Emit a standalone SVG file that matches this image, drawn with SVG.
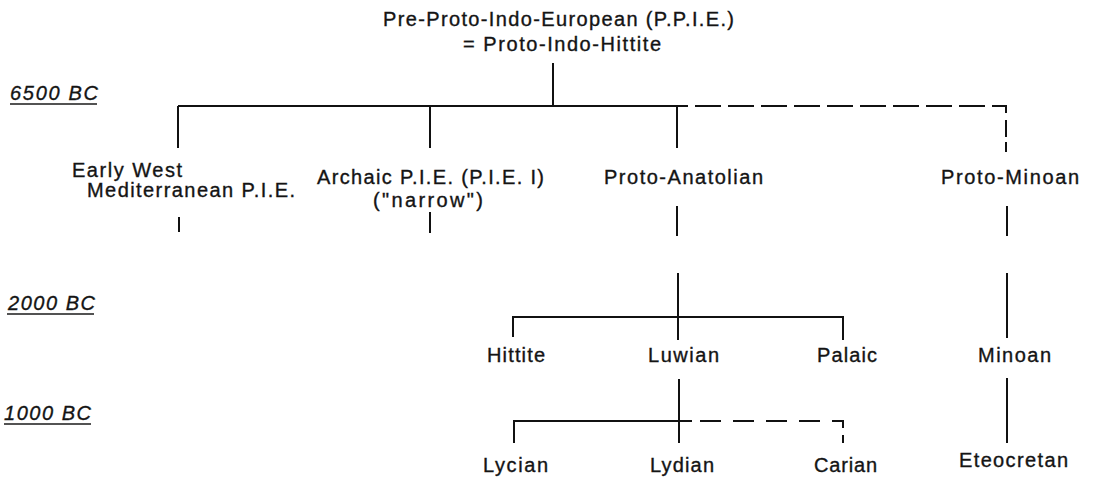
<svg xmlns="http://www.w3.org/2000/svg" width="1094" height="477" viewBox="0 0 1094 477">
<style>
text{font-family:"Liberation Sans",Arial,sans-serif;font-size:20px;fill:#141414;stroke:#141414;stroke-width:0.35}
.yr{font-style:italic}
.ul{stroke:#1a1a1a;stroke-width:1.6}
.c{fill:none;stroke:#111;stroke-width:2}
.d1{stroke-dasharray:26 7}
.d2{stroke-dasharray:21 12}
</style>
<rect width="1094" height="477" fill="#fff"/>
<g id="timeline">
<text class="yr" x="10" y="100" textLength="88" lengthAdjust="spacing">6500 BC</text>
<line class="ul" x1="10" y1="104" x2="97" y2="104"/>
<text class="yr" x="8" y="310" textLength="87" lengthAdjust="spacing">2000 BC</text>
<line class="ul" x1="7" y1="314" x2="94" y2="314"/>
<text class="yr" x="4" y="420" textLength="87" lengthAdjust="spacing">1000 BC</text>
<line class="ul" x1="4" y1="424" x2="91" y2="424"/>
</g>
<g id="connectors">
<path class="c" d="M553,63V106M178,106H688M178,106V148M430,106V148M677,106V148"/>
<path class="c d1" d="M695,106H1006V113"/>
<path class="c" d="M1006,120V137M1006,142V152"/>
<path class="c" d="M179,217V232M430,212V233M677,206V236M1007,206V236"/>
<path class="c" d="M678,273V340M513,337V317H843V340"/>
<path class="c" d="M1007,273V338M1007,378V443"/>
<path class="c" d="M679,379V443M514,443V421H692"/>
<path class="c d2" d="M700,421H843V428"/>
<path class="c" d="M843,435V443"/>
</g>
<g id="n-ppie"><text x="383" y="26" textLength="351" lengthAdjust="spacing">Pre-Proto-Indo-European (P.P.I.E.)</text><text x="463" y="51" textLength="198" lengthAdjust="spacing">= Proto-Indo-Hittite</text></g>
<g id="n-ewm"><text x="72" y="177" textLength="110" lengthAdjust="spacing">Early West</text><text x="87" y="197" textLength="208" lengthAdjust="spacing">Mediterranean P.I.E.</text></g>
<g id="n-archaic"><text x="317" y="184" textLength="227" lengthAdjust="spacing">Archaic P.I.E. (P.I.E. I)</text><text x="373" y="207" textLength="110" lengthAdjust="spacing">("narrow")</text></g>
<g id="n-protoanatolian"><text x="604" y="184" textLength="159" lengthAdjust="spacing">Proto-Anatolian</text></g>
<g id="n-protominoan"><text x="941" y="184" textLength="138" lengthAdjust="spacing">Proto-Minoan</text></g>
<g id="n-hittite"><text x="487" y="362" textLength="58" lengthAdjust="spacing">Hittite</text></g>
<g id="n-luwian"><text x="648" y="362" textLength="71" lengthAdjust="spacing">Luwian</text></g>
<g id="n-palaic"><text x="817" y="362" textLength="60" lengthAdjust="spacing">Palaic</text></g>
<g id="n-minoan"><text x="978" y="362" textLength="73" lengthAdjust="spacing">Minoan</text></g>
<g id="n-lycian"><text x="483" y="472" textLength="65" lengthAdjust="spacing">Lycian</text></g>
<g id="n-lydian"><text x="650" y="472" textLength="64" lengthAdjust="spacing">Lydian</text></g>
<g id="n-carian"><text x="814" y="472" textLength="63" lengthAdjust="spacing">Carian</text></g>
<g id="n-eteocretan"><text x="959" y="467" textLength="109" lengthAdjust="spacing">Eteocretan</text></g>
</svg>
